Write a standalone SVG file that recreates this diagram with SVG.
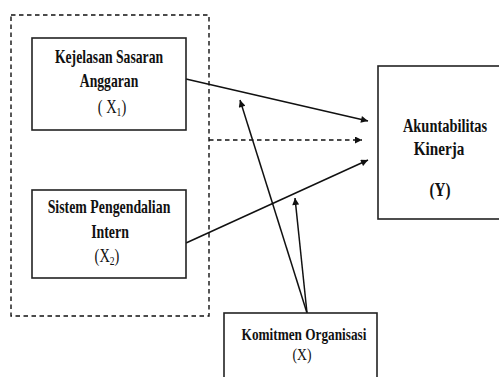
<svg xmlns="http://www.w3.org/2000/svg" width="499" height="377" viewBox="0 0 499 377">
<style>
.box{fill:#fff;stroke:#222;stroke-width:1.6}
.b{font-family:"Liberation Serif","Times New Roman",serif;font-weight:bold;fill:#111;text-anchor:middle}
.r{font-family:"Liberation Serif","Times New Roman",serif;fill:#111;text-anchor:middle}
.ln{stroke:#111;stroke-width:1.5;fill:none}
.dash{stroke:#111;stroke-width:1.4;fill:none;stroke-dasharray:4.5,3.5}
</style>
<defs>
<marker id="ah" viewBox="0 0 10 10" refX="10" refY="5" markerWidth="9" markerHeight="7" markerUnits="userSpaceOnUse" orient="auto">
<path d="M0,0 L10,5 L0,10 z" fill="#111"/>
</marker>
</defs>
<rect width="499" height="377" fill="#fff"/>
<g id="group-x">
<path class="dash" d="M11,15 H209 V316 H11 Z"/>
</g>
<g id="connectors">
<line class="ln" x1="186" y1="79" x2="368" y2="121" marker-end="url(#ah)"/>
<line class="ln" x1="186" y1="243" x2="368" y2="160" marker-end="url(#ah)"/>
<line class="dash" x1="209" y1="140" x2="362" y2="140" marker-end="url(#ah)"/>
<line class="ln" x1="307" y1="313" x2="240" y2="100" marker-end="url(#ah)"/>
<line class="ln" x1="307" y1="313" x2="295" y2="198" marker-end="url(#ah)"/>
</g>
<g id="node-x1">
<rect class="box" x="32" y="38" width="154" height="92"/>
<text class="b" font-size="18" transform="translate(109,63) scale(0.76,1)">Kejelasan Sasaran</text>
<text class="b" font-size="18" transform="translate(109,87) scale(0.76,1)">Anggaran</text>
<text class="r" font-size="18" transform="translate(112,113) scale(0.8,1)">( X<tspan font-size="12" dy="3">1</tspan><tspan dy="-3">)</tspan></text>
</g>
<g id="node-x2">
<rect class="box" x="32" y="190" width="154" height="88"/>
<text class="b" font-size="18" transform="translate(109,213) scale(0.77,1)">Sistem Pengendalian</text>
<text class="b" font-size="18" transform="translate(110,238) scale(0.77,1)">Intern</text>
<text class="r" font-size="18" transform="translate(107,262) scale(0.8,1)">(X<tspan font-size="12" dy="3">2</tspan><tspan dy="-3">)</tspan></text>
</g>
<g id="node-y">
<rect class="box" x="378" y="66" width="130" height="153"/>
<text class="b" font-size="19" transform="translate(445,132) scale(0.76,1)">Akuntabilitas</text>
<text class="b" font-size="19" transform="translate(439,155) scale(0.8,1)">Kinerja</text>
<text class="b" font-size="19" transform="translate(440,196) scale(0.8,1)">(Y)</text>
</g>
<g id="node-x">
<rect class="box" x="224" y="313" width="153" height="80"/>
<text class="b" font-size="17" transform="translate(304,340) scale(0.78,1)">Komitmen Organisasi</text>
<text class="r" font-size="17" transform="translate(302,360) scale(0.8,1)">(X)</text>
</g>
</svg>
